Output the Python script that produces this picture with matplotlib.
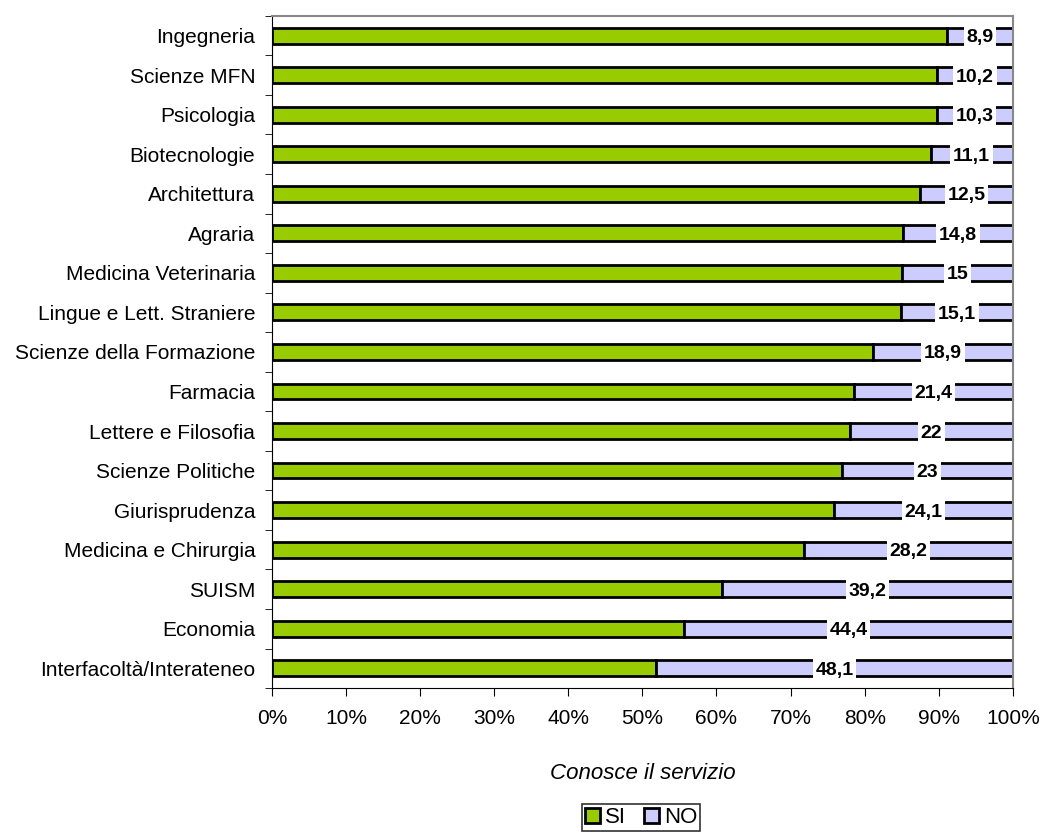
import matplotlib
matplotlib.use("Agg")
import matplotlib.pyplot as plt
import numpy as np

plt.rcParams['font.family'] = ['Liberation Sans', 'DejaVu Sans']

categories = ["Ingegneria", "Scienze MFN", "Psicologia", "Biotecnologie", "Architettura",
              "Agraria", "Medicina Veterinaria", "Lingue e Lett. Straniere",
              "Scienze della Formazione", "Farmacia", "Lettere e Filosofia",
              "Scienze Politiche", "Giurisprudenza", "Medicina e Chirurgia",
              "SUISM", "Economia", "Interfacoltà/Interateneo"]
no_vals = [8.9, 10.2, 10.3, 11.1, 12.5, 14.8, 15, 15.1, 18.9, 21.4, 22, 23, 24.1,
           28.2, 39.2, 44.4, 48.1]
si_vals = [round(100 - v, 1) for v in no_vals]
no_labels = ["8,9", "10,2", "10,3", "11,1", "12,5", "14,8", "15", "15,1", "18,9",
             "21,4", "22", "23", "24,1", "28,2", "39,2", "44,4", "48,1"]

fig = plt.figure(figsize=(10.42, 8.34), dpi=100)
ax = fig.add_axes([0.261, 0.175, 0.711, 0.806])

n = len(categories)
y = np.arange(n)[::-1]
h = 0.4
ax.barh(y, si_vals, height=h, color="#99CC00", edgecolor="black", linewidth=2, label="SI")
ax.barh(y, no_vals, left=si_vals, height=h, color="#CCCCFF", edgecolor="black", linewidth=2, label="NO")

for yi, s, v, lab in zip(y, si_vals, no_vals, no_labels):
    ax.text(s + v / 2, yi, lab, ha="center", va="center_baseline", fontsize=14, fontweight="bold",
            bbox=dict(facecolor="white", edgecolor="none", pad=2))

ax.set_xlim(0, 100)
ax.set_ylim(-0.5, n - 0.5)
ax.set_xticks(np.arange(0, 101, 10))
ax.set_xticklabels([f"{v}%" for v in range(0, 101, 10)], fontsize=15)
ax.set_yticks(y)
ax.set_yticklabels(categories, fontsize=15)
ax.set_yticks(np.arange(-0.5, n, 1), minor=True)
ax.tick_params(axis="y", which="major", length=0, pad=12)
ax.tick_params(axis="y", which="minor", length=5, direction="out", color="black")
ax.tick_params(axis="x", length=6, direction="out", pad=9)

for side in ["top", "right"]:
    ax.spines[side].set_color("#888888")
    ax.spines[side].set_linewidth(1.5)
ax.spines["left"].set_color("black")
ax.spines["bottom"].set_color("black")

ax.set_xlabel("Conosce il servizio", fontsize=16, fontstyle="italic", labelpad=25)

leg = fig.legend(loc="lower center", bbox_to_anchor=(641 / 1042, 0.003), ncol=2, fontsize=16,
                 frameon=True, fancybox=False, edgecolor="black", handlelength=0.7,
                 handleheight=0.7, handletextpad=0.2, columnspacing=0.8, borderpad=0.15,
                 borderaxespad=0)
leg.get_frame().set_linewidth(1.2)

fig.savefig("out.png", dpi=100)
